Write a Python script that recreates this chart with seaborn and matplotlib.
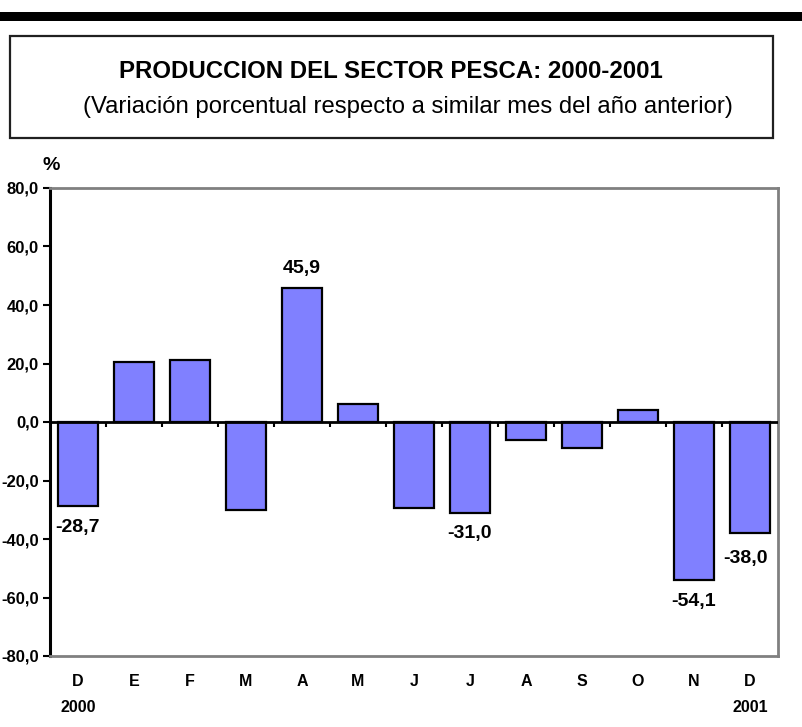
import numpy as np
import pandas as pd
import matplotlib
matplotlib.use("Agg")
import matplotlib.pyplot as plt
import seaborn as sns
from matplotlib.patches import Rectangle

# datos
meses = ["D", "E", "F", "M", "A", "M", "J", "J", "A", "S", "O", "N", "D"]
anios = ["2000", "", "", "", "", "", "", "", "", "", "", "", "2001"]
variacion = [-28.7, 20.4, 21.1, -30.1, 45.9, 6.0, -29.4, -31.0, -6.1, -8.9, 4.0, -54.1, -38.0]
etiquetas = {0: "-28,7", 4: "45,9", 7: "-31,0", 11: "-54,1", 12: "-38,0"}
yticks = [80, 60, 40, 20, 0, -20, -40, -60, -80]

sns.set_theme(style="white")
plt.rcParams["font.family"] = ["Liberation Sans", "DejaVu Sans"]
plt.rcParams["text.color"] = "black"
plt.rcParams["xtick.color"] = "black"
plt.rcParams["ytick.color"] = "black"

df = pd.DataFrame({"clave": [f"{m}{i}" for i, m in enumerate(meses)], "valor": variacion})

fig = plt.figure(figsize=(8.02, 7.27), dpi=100)
ax = fig.add_axes([50 / 802, 1 - 656 / 727, 728 / 802, 468 / 727])

sns.barplot(data=df, x="clave", y="valor", color="#8080FF", saturation=1,
            width=0.72, edgecolor="black", linewidth=1.6, ax=ax)

ax.set_ylim(-80, 80)
ax.set_xlim(-0.5, len(meses) - 0.5)
ax.set_yticks(yticks)
ax.set_yticklabels([f"{v:.1f}".replace(".", ",") for v in yticks],
                   fontsize=12, fontweight="bold")
ax.set_xticks(range(len(meses)))
ax.set_xticklabels([f"{m}\n{a}" if a else m for m, a in zip(meses, anios)],
                   fontsize=11.5, fontweight="bold", linespacing=1.9, va="top")
ax.tick_params(axis="x", length=0, pad=13)
ax.tick_params(axis="y", direction="out", length=5, width=1.5, color="black", pad=3, left=True)
ax.set_xlabel("")
ax.set_ylabel("")

for side in ["top", "right", "bottom"]:
    ax.spines[side].set_color("#808080")
    ax.spines[side].set_linewidth(2)
ax.spines["left"].set_color("black")
ax.spines["left"].set_linewidth(2.2)

# linea de cero con marcas entre categorias
ax.axhline(0, color="black", lw=2, zorder=3)
limites = np.arange(len(meses) + 1) - 0.5
ax.vlines(limites[1:-1], -1.8, 0, color="black", lw=1.5, zorder=3)

for i, txt in etiquetas.items():
    v = variacion[i]
    if i == 12:
        ax.text(i - 0.08, v - 8.5, txt, ha="center", va="center", fontsize=14, fontweight="bold")
    elif v > 0:
        ax.text(i, v + 6.5, txt, ha="center", va="center", fontsize=14, fontweight="bold")
    else:
        ax.text(i, v - 7.2, txt, ha="center", va="center", fontsize=14, fontweight="bold")

fig.text(51 / 802, 1 - 165 / 727, "%", ha="center", va="center", fontsize=14, fontweight="bold")

# barra negra superior y recuadro del titulo
fig.patches.append(Rectangle((0, 1 - 21 / 727), 1, 9 / 727, transform=fig.transFigure,
                             facecolor="black", edgecolor="none"))
fig.patches.append(Rectangle((10 / 802, 1 - 138 / 727), 763 / 802, 102 / 727,
                             transform=fig.transFigure, facecolor="white",
                             edgecolor="#202020", lw=1.6))
fig.text(391 / 802, 1 - 72 / 727, "PRODUCCION DEL SECTOR PESCA: 2000-2001",
         ha="center", va="center", fontsize=17.3, fontweight="bold")
fig.text(408 / 802, 1 - 107 / 727,
         "(Variación porcentual respecto a similar mes del año anterior)",
         ha="center", va="center", fontsize=17.2)

fig.savefig("out.png", dpi=100)
